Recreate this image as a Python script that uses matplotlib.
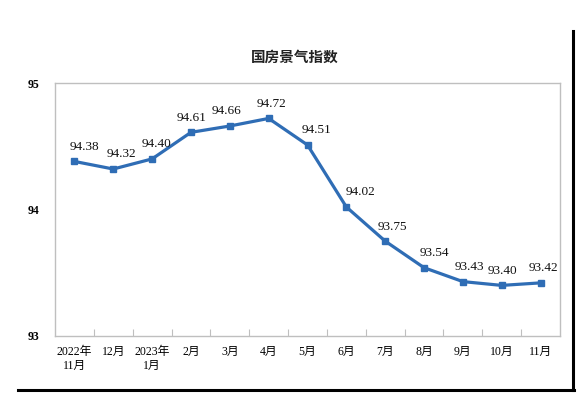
import matplotlib
matplotlib.use("Agg")
import matplotlib.pyplot as plt
from matplotlib.lines import Line2D

months = ["2022年\n11月", "12月", "2023年\n1月", "2月", "3月", "4月", "5月",
          "6月", "7月", "8月", "9月", "10月", "11月"]
values = [94.38, 94.32, 94.40, 94.61, 94.66, 94.72, 94.51,
          94.02, 93.75, 93.54, 93.43, 93.40, 93.42]
yticks = [93, 94, 95]
title = "国房景气指数"

plt.rcParams['font.family'] = ["Liberation Serif", "Noto Sans CJK SC"]

fig = plt.figure(figsize=(5.78, 3.94), dpi=100)
ax = fig.add_axes([55/578, 1-336/394, 505/578, 253/394])

color = "#2f6db5"
x = list(range(len(values)))
n = len(values)

ax.plot(x, values, color=color, lw=2.3, marker="s", ms=4, zorder=3,
        solid_joinstyle="round")

dx_px = [10, 8, 4, 1, -3, 3, 9, 14, 7, 10, 6, 1, 3]
for i, v in enumerate(values):
    ax.annotate(f"{v:.2f}", (i, v), xytext=(dx_px[i] * 0.72, 10.5), textcoords="offset points",
                ha="center", va="center", fontsize=9.5, family="Liberation Serif",
                color="#111111")

ax.set_xlim(-0.5, n - 0.5)
ax.set_ylim(93, 95)
ax.set_yticks(yticks)
ax.set_yticklabels([str(t) for t in yticks], fontsize=8.5, fontweight="bold",
                   family="Liberation Serif")
ax.tick_params(axis="y", length=0, pad=11)

ax.set_xticks(x)
ax.set_xticklabels(months, fontsize=8.5, linespacing=1.2)
ax.tick_params(axis="x", which="major", length=0, pad=7)
ax.set_xticks([i + 0.5 for i in range(n - 1)], minor=True)
ax.tick_params(axis="x", which="minor", direction="in", length=5, color="#bfbfbf", width=0.8)

for s in ax.spines.values():
    s.set_color("#bfbfbf")
    s.set_linewidth(1.0)

fig.text(295/578, 1-57/394, title, ha="center", va="center", fontsize=10.5,
         family=["Noto Sans CJK SC"], fontweight="bold", color="#222222")

fig.add_artist(Line2D([573/578, 573/578], [1-31/394, 1-390/394], transform=fig.transFigure,
                      color="black", lw=2.2))
fig.add_artist(Line2D([18/578, 574/578], [1-390/394, 1-390/394], transform=fig.transFigure,
                      color="black", lw=2.2))

fig.savefig("out.png", dpi=100)
